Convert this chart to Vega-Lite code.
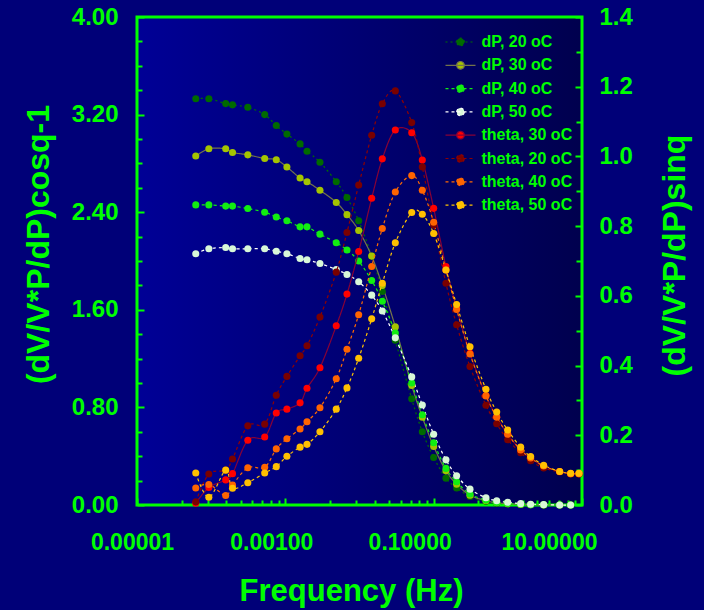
{
  "$schema": "https://vega.github.io/schema/vega-lite/v6.json",
  "width": 445,
  "height": 488,
  "autosize": "none",
  "padding": {"left": 137, "top": 17, "right": 122, "bottom": 105},
  "background": "#000078",
  "config": {
    "view": {"stroke": "#00ff00", "strokeWidth": 3, "fill": {"gradient": "linear", "x1": 0, "y1": 0, "x2": 1, "y2": 0, "stops": [{"offset": 0, "color": "#000096"}, {"offset": 1, "color": "#00004e"}]}},
    "axis": {
      "domain": false,
      "grid": false,
      "tickColor": "#00ff00",
      "tickWidth": 2,
      "labelFont": "Liberation Sans",
      "labelFontWeight": "bold",
      "labelColor": "#00ff00",
      "titleFont": "Liberation Sans",
      "titleFontWeight": "bold",
      "titleColor": "#00ff00"
    }
  },
  "data": {
    "values": [
      {"s": "dP, 20 oC", "f": 6.2e-5, "v": 3.33}, {"s": "dP, 20 oC", "f": 9.3e-5, "v": 3.33}, {"s": "dP, 20 oC", "f": 1.57e-4, "v": 3.29}, {"s": "dP, 20 oC", "f": 1.94e-4, "v": 3.28}, {"s": "dP, 20 oC", "f": 3.12e-4, "v": 3.26}, {"s": "dP, 20 oC", "f": 5.27e-4, "v": 3.2}, {"s": "dP, 20 oC", "f": 7.55e-4, "v": 3.11}, {"s": "dP, 20 oC", "f": 1.05e-3, "v": 3.04}, {"s": "dP, 20 oC", "f": 1.58e-3, "v": 2.96}, {"s": "dP, 20 oC", "f": 1.96e-3, "v": 2.9}, {"s": "dP, 20 oC", "f": 2.93e-3, "v": 2.81}, {"s": "dP, 20 oC", "f": 4.86e-3, "v": 2.65}, {"s": "dP, 20 oC", "f": 6.78e-3, "v": 2.52}, {"s": "dP, 20 oC", "f": 9.75e-3, "v": 2.33}, {"s": "dP, 20 oC", "f": 0.0146, "v": 2.04}, {"s": "dP, 20 oC", "f": 0.0203, "v": 1.75}, {"s": "dP, 20 oC", "f": 0.0304, "v": 1.35}, {"s": "dP, 20 oC", "f": 0.0506, "v": 0.87}, {"s": "dP, 20 oC", "f": 0.0703, "v": 0.6}, {"s": "dP, 20 oC", "f": 0.1, "v": 0.39}, {"s": "dP, 20 oC", "f": 0.1465, "v": 0.22}, {"s": "dP, 20 oC", "f": 0.204, "v": 0.14}, {"s": "dP, 20 oC", "f": 0.309, "v": 0.07}, {"s": "dP, 20 oC", "f": 0.507, "v": 0.03}, {"s": "dP, 20 oC", "f": 0.708, "v": 0.015}, {"s": "dP, 20 oC", "f": 0.995, "v": 0.008}, {"s": "dP, 20 oC", "f": 1.49, "v": 0.004}, {"s": "dP, 20 oC", "f": 2.03, "v": 0.002}, {"s": "dP, 20 oC", "f": 3.04, "v": 0.001}, {"s": "dP, 20 oC", "f": 5.0, "v": 0}, {"s": "dP, 20 oC", "f": 7.03, "v": 0},

      {"s": "dP, 30 oC", "f": 6.2e-5, "v": 2.86}, {"s": "dP, 30 oC", "f": 9.3e-5, "v": 2.92}, {"s": "dP, 30 oC", "f": 1.57e-4, "v": 2.92}, {"s": "dP, 30 oC", "f": 1.94e-4, "v": 2.89}, {"s": "dP, 30 oC", "f": 3.12e-4, "v": 2.87}, {"s": "dP, 30 oC", "f": 5.27e-4, "v": 2.84}, {"s": "dP, 30 oC", "f": 7.55e-4, "v": 2.83}, {"s": "dP, 30 oC", "f": 1.05e-3, "v": 2.77}, {"s": "dP, 30 oC", "f": 1.58e-3, "v": 2.68}, {"s": "dP, 30 oC", "f": 1.96e-3, "v": 2.65}, {"s": "dP, 30 oC", "f": 2.93e-3, "v": 2.58}, {"s": "dP, 30 oC", "f": 4.86e-3, "v": 2.48}, {"s": "dP, 30 oC", "f": 6.78e-3, "v": 2.38}, {"s": "dP, 30 oC", "f": 9.75e-3, "v": 2.25}, {"s": "dP, 30 oC", "f": 0.0146, "v": 2.04}, {"s": "dP, 30 oC", "f": 0.0203, "v": 1.8}, {"s": "dP, 30 oC", "f": 0.0304, "v": 1.46}, {"s": "dP, 30 oC", "f": 0.0506, "v": 0.98}, {"s": "dP, 30 oC", "f": 0.0703, "v": 0.72}, {"s": "dP, 30 oC", "f": 0.1, "v": 0.48}, {"s": "dP, 30 oC", "f": 0.1465, "v": 0.28}, {"s": "dP, 30 oC", "f": 0.204, "v": 0.17}, {"s": "dP, 30 oC", "f": 0.309, "v": 0.08}, {"s": "dP, 30 oC", "f": 0.507, "v": 0.035}, {"s": "dP, 30 oC", "f": 0.708, "v": 0.018}, {"s": "dP, 30 oC", "f": 0.995, "v": 0.01}, {"s": "dP, 30 oC", "f": 1.49, "v": 0.005}, {"s": "dP, 30 oC", "f": 2.03, "v": 0.003}, {"s": "dP, 30 oC", "f": 3.04, "v": 0.001}, {"s": "dP, 30 oC", "f": 5.0, "v": 0}, {"s": "dP, 30 oC", "f": 7.03, "v": 0},

      {"s": "dP, 40 oC", "f": 6.2e-5, "v": 2.46}, {"s": "dP, 40 oC", "f": 9.3e-5, "v": 2.46}, {"s": "dP, 40 oC", "f": 1.57e-4, "v": 2.45}, {"s": "dP, 40 oC", "f": 1.94e-4, "v": 2.45}, {"s": "dP, 40 oC", "f": 3.12e-4, "v": 2.43}, {"s": "dP, 40 oC", "f": 5.27e-4, "v": 2.4}, {"s": "dP, 40 oC", "f": 7.55e-4, "v": 2.36}, {"s": "dP, 40 oC", "f": 1.05e-3, "v": 2.33}, {"s": "dP, 40 oC", "f": 1.58e-3, "v": 2.28}, {"s": "dP, 40 oC", "f": 1.96e-3, "v": 2.28}, {"s": "dP, 40 oC", "f": 2.93e-3, "v": 2.22}, {"s": "dP, 40 oC", "f": 4.86e-3, "v": 2.15}, {"s": "dP, 40 oC", "f": 6.78e-3, "v": 2.09}, {"s": "dP, 40 oC", "f": 9.75e-3, "v": 2.0}, {"s": "dP, 40 oC", "f": 0.0146, "v": 1.84}, {"s": "dP, 40 oC", "f": 0.0203, "v": 1.67}, {"s": "dP, 40 oC", "f": 0.0304, "v": 1.41}, {"s": "dP, 40 oC", "f": 0.0506, "v": 1.0}, {"s": "dP, 40 oC", "f": 0.0703, "v": 0.74}, {"s": "dP, 40 oC", "f": 0.1, "v": 0.51}, {"s": "dP, 40 oC", "f": 0.1465, "v": 0.3}, {"s": "dP, 40 oC", "f": 0.204, "v": 0.19}, {"s": "dP, 40 oC", "f": 0.309, "v": 0.09}, {"s": "dP, 40 oC", "f": 0.507, "v": 0.04}, {"s": "dP, 40 oC", "f": 0.708, "v": 0.02}, {"s": "dP, 40 oC", "f": 0.995, "v": 0.012}, {"s": "dP, 40 oC", "f": 1.49, "v": 0.006}, {"s": "dP, 40 oC", "f": 2.03, "v": 0.003}, {"s": "dP, 40 oC", "f": 3.04, "v": 0.002}, {"s": "dP, 40 oC", "f": 5.0, "v": 0.001}, {"s": "dP, 40 oC", "f": 7.03, "v": 0},

      {"s": "dP, 50 oC", "f": 6.2e-5, "v": 2.06}, {"s": "dP, 50 oC", "f": 9.3e-5, "v": 2.1}, {"s": "dP, 50 oC", "f": 1.57e-4, "v": 2.11}, {"s": "dP, 50 oC", "f": 1.94e-4, "v": 2.1}, {"s": "dP, 50 oC", "f": 3.12e-4, "v": 2.1}, {"s": "dP, 50 oC", "f": 5.27e-4, "v": 2.1}, {"s": "dP, 50 oC", "f": 7.55e-4, "v": 2.08}, {"s": "dP, 50 oC", "f": 1.05e-3, "v": 2.06}, {"s": "dP, 50 oC", "f": 1.58e-3, "v": 2.02}, {"s": "dP, 50 oC", "f": 1.96e-3, "v": 2.01}, {"s": "dP, 50 oC", "f": 2.93e-3, "v": 1.98}, {"s": "dP, 50 oC", "f": 4.86e-3, "v": 1.93}, {"s": "dP, 50 oC", "f": 6.78e-3, "v": 1.89}, {"s": "dP, 50 oC", "f": 9.75e-3, "v": 1.83}, {"s": "dP, 50 oC", "f": 0.0146, "v": 1.72}, {"s": "dP, 50 oC", "f": 0.0203, "v": 1.59}, {"s": "dP, 50 oC", "f": 0.0304, "v": 1.37}, {"s": "dP, 50 oC", "f": 0.0506, "v": 1.05}, {"s": "dP, 50 oC", "f": 0.0703, "v": 0.82}, {"s": "dP, 50 oC", "f": 0.1, "v": 0.58}, {"s": "dP, 50 oC", "f": 0.1465, "v": 0.37}, {"s": "dP, 50 oC", "f": 0.204, "v": 0.24}, {"s": "dP, 50 oC", "f": 0.309, "v": 0.13}, {"s": "dP, 50 oC", "f": 0.507, "v": 0.06}, {"s": "dP, 50 oC", "f": 0.708, "v": 0.035}, {"s": "dP, 50 oC", "f": 0.995, "v": 0.022}, {"s": "dP, 50 oC", "f": 1.49, "v": 0.011}, {"s": "dP, 50 oC", "f": 2.03, "v": 0.006}, {"s": "dP, 50 oC", "f": 3.04, "v": 0.003}, {"s": "dP, 50 oC", "f": 5.0, "v": 0}, {"s": "dP, 50 oC", "f": 7.03, "v": 0},

      {"s": "theta, 30 oC", "f": 6.2e-5, "v": 0.005}, {"s": "theta, 30 oC", "f": 9.3e-5, "v": 0.05}, {"s": "theta, 30 oC", "f": 1.57e-4, "v": 0.072}, {"s": "theta, 30 oC", "f": 1.94e-4, "v": 0.09}, {"s": "theta, 30 oC", "f": 3.12e-4, "v": 0.186}, {"s": "theta, 30 oC", "f": 5.27e-4, "v": 0.195}, {"s": "theta, 30 oC", "f": 7.55e-4, "v": 0.264}, {"s": "theta, 30 oC", "f": 1.05e-3, "v": 0.275}, {"s": "theta, 30 oC", "f": 1.58e-3, "v": 0.293}, {"s": "theta, 30 oC", "f": 1.96e-3, "v": 0.335}, {"s": "theta, 30 oC", "f": 2.93e-3, "v": 0.394}, {"s": "theta, 30 oC", "f": 4.86e-3, "v": 0.514}, {"s": "theta, 30 oC", "f": 6.78e-3, "v": 0.605}, {"s": "theta, 30 oC", "f": 9.75e-3, "v": 0.727}, {"s": "theta, 30 oC", "f": 0.0146, "v": 0.88}, {"s": "theta, 30 oC", "f": 0.0203, "v": 0.993}, {"s": "theta, 30 oC", "f": 0.0304, "v": 1.076}, {"s": "theta, 30 oC", "f": 0.0506, "v": 1.068}, {"s": "theta, 30 oC", "f": 0.0703, "v": 0.99}, {"s": "theta, 30 oC", "f": 0.1, "v": 0.851}, {"s": "theta, 30 oC", "f": 0.1465, "v": 0.684}, {"s": "theta, 30 oC", "f": 0.204, "v": 0.564}, {"s": "theta, 30 oC", "f": 0.309, "v": 0.435}, {"s": "theta, 30 oC", "f": 0.507, "v": 0.314}, {"s": "theta, 30 oC", "f": 0.708, "v": 0.253}, {"s": "theta, 30 oC", "f": 0.995, "v": 0.203}, {"s": "theta, 30 oC", "f": 1.49, "v": 0.158}, {"s": "theta, 30 oC", "f": 2.03, "v": 0.134}, {"s": "theta, 30 oC", "f": 3.04, "v": 0.112}, {"s": "theta, 30 oC", "f": 5.0, "v": 0.096}, {"s": "theta, 30 oC", "f": 7.03, "v": 0.09}, {"s": "theta, 30 oC", "f": 9.1, "v": 0.09},

      {"s": "theta, 20 oC", "f": 6.2e-5, "v": 0.009}, {"s": "theta, 20 oC", "f": 9.3e-5, "v": 0.089}, {"s": "theta, 20 oC", "f": 1.57e-4, "v": 0.1}, {"s": "theta, 20 oC", "f": 1.94e-4, "v": 0.132}, {"s": "theta, 20 oC", "f": 3.12e-4, "v": 0.227}, {"s": "theta, 20 oC", "f": 5.27e-4, "v": 0.232}, {"s": "theta, 20 oC", "f": 7.55e-4, "v": 0.315}, {"s": "theta, 20 oC", "f": 1.05e-3, "v": 0.369}, {"s": "theta, 20 oC", "f": 1.58e-3, "v": 0.428}, {"s": "theta, 20 oC", "f": 1.96e-3, "v": 0.457}, {"s": "theta, 20 oC", "f": 2.93e-3, "v": 0.539}, {"s": "theta, 20 oC", "f": 4.86e-3, "v": 0.668}, {"s": "theta, 20 oC", "f": 6.78e-3, "v": 0.782}, {"s": "theta, 20 oC", "f": 9.75e-3, "v": 0.918}, {"s": "theta, 20 oC", "f": 0.0146, "v": 1.061}, {"s": "theta, 20 oC", "f": 0.0203, "v": 1.151}, {"s": "theta, 20 oC", "f": 0.0304, "v": 1.188}, {"s": "theta, 20 oC", "f": 0.0506, "v": 1.097}, {"s": "theta, 20 oC", "f": 0.0703, "v": 0.97}, {"s": "theta, 20 oC", "f": 0.1, "v": 0.803}, {"s": "theta, 20 oC", "f": 0.1465, "v": 0.636}, {"s": "theta, 20 oC", "f": 0.204, "v": 0.517}, {"s": "theta, 20 oC", "f": 0.309, "v": 0.397}, {"s": "theta, 20 oC", "f": 0.507, "v": 0.286}, {"s": "theta, 20 oC", "f": 0.708, "v": 0.233}, {"s": "theta, 20 oC", "f": 0.995, "v": 0.187}, {"s": "theta, 20 oC", "f": 1.49, "v": 0.15}, {"s": "theta, 20 oC", "f": 2.03, "v": 0.127}, {"s": "theta, 20 oC", "f": 3.04, "v": 0.106}, {"s": "theta, 20 oC", "f": 5.0, "v": 0.095}, {"s": "theta, 20 oC", "f": 7.03, "v": 0.089}, {"s": "theta, 20 oC", "f": 9.1, "v": 0.089},

      {"s": "theta, 40 oC", "f": 6.2e-5, "v": 0.049}, {"s": "theta, 40 oC", "f": 9.3e-5, "v": 0.059}, {"s": "theta, 40 oC", "f": 1.57e-4, "v": 0.027}, {"s": "theta, 40 oC", "f": 1.94e-4, "v": 0.057}, {"s": "theta, 40 oC", "f": 3.12e-4, "v": 0.107}, {"s": "theta, 40 oC", "f": 5.27e-4, "v": 0.108}, {"s": "theta, 40 oC", "f": 7.55e-4, "v": 0.161}, {"s": "theta, 40 oC", "f": 1.05e-3, "v": 0.19}, {"s": "theta, 40 oC", "f": 1.58e-3, "v": 0.218}, {"s": "theta, 40 oC", "f": 1.96e-3, "v": 0.239}, {"s": "theta, 40 oC", "f": 2.93e-3, "v": 0.279}, {"s": "theta, 40 oC", "f": 4.86e-3, "v": 0.362}, {"s": "theta, 40 oC", "f": 6.78e-3, "v": 0.447}, {"s": "theta, 40 oC", "f": 9.75e-3, "v": 0.546}, {"s": "theta, 40 oC", "f": 0.0146, "v": 0.684}, {"s": "theta, 40 oC", "f": 0.0203, "v": 0.793}, {"s": "theta, 40 oC", "f": 0.0304, "v": 0.898}, {"s": "theta, 40 oC", "f": 0.0506, "v": 0.945}, {"s": "theta, 40 oC", "f": 0.0703, "v": 0.903}, {"s": "theta, 40 oC", "f": 0.1, "v": 0.811}, {"s": "theta, 40 oC", "f": 0.1465, "v": 0.674}, {"s": "theta, 40 oC", "f": 0.204, "v": 0.561}, {"s": "theta, 40 oC", "f": 0.309, "v": 0.433}, {"s": "theta, 40 oC", "f": 0.507, "v": 0.313}, {"s": "theta, 40 oC", "f": 0.708, "v": 0.252}, {"s": "theta, 40 oC", "f": 0.995, "v": 0.203}, {"s": "theta, 40 oC", "f": 1.49, "v": 0.158}, {"s": "theta, 40 oC", "f": 2.03, "v": 0.135}, {"s": "theta, 40 oC", "f": 3.04, "v": 0.112}, {"s": "theta, 40 oC", "f": 5.0, "v": 0.096}, {"s": "theta, 40 oC", "f": 7.03, "v": 0.09}, {"s": "theta, 40 oC", "f": 9.1, "v": 0.09},

      {"s": "theta, 50 oC", "f": 6.2e-5, "v": 0.092}, {"s": "theta, 50 oC", "f": 9.3e-5, "v": 0.022}, {"s": "theta, 50 oC", "f": 1.57e-4, "v": 0.1}, {"s": "theta, 50 oC", "f": 1.94e-4, "v": 0.048}, {"s": "theta, 50 oC", "f": 3.12e-4, "v": 0.064}, {"s": "theta, 50 oC", "f": 5.27e-4, "v": 0.092}, {"s": "theta, 50 oC", "f": 7.55e-4, "v": 0.11}, {"s": "theta, 50 oC", "f": 1.05e-3, "v": 0.14}, {"s": "theta, 50 oC", "f": 1.58e-3, "v": 0.166}, {"s": "theta, 50 oC", "f": 1.96e-3, "v": 0.174}, {"s": "theta, 50 oC", "f": 2.93e-3, "v": 0.21}, {"s": "theta, 50 oC", "f": 4.86e-3, "v": 0.275}, {"s": "theta, 50 oC", "f": 6.78e-3, "v": 0.336}, {"s": "theta, 50 oC", "f": 9.75e-3, "v": 0.421}, {"s": "theta, 50 oC", "f": 0.0146, "v": 0.534}, {"s": "theta, 50 oC", "f": 0.0203, "v": 0.636}, {"s": "theta, 50 oC", "f": 0.0304, "v": 0.752}, {"s": "theta, 50 oC", "f": 0.0506, "v": 0.839}, {"s": "theta, 50 oC", "f": 0.0703, "v": 0.834}, {"s": "theta, 50 oC", "f": 0.1, "v": 0.779}, {"s": "theta, 50 oC", "f": 0.1465, "v": 0.674}, {"s": "theta, 50 oC", "f": 0.204, "v": 0.575}, {"s": "theta, 50 oC", "f": 0.309, "v": 0.454}, {"s": "theta, 50 oC", "f": 0.507, "v": 0.332}, {"s": "theta, 50 oC", "f": 0.708, "v": 0.267}, {"s": "theta, 50 oC", "f": 0.995, "v": 0.215}, {"s": "theta, 50 oC", "f": 1.49, "v": 0.166}, {"s": "theta, 50 oC", "f": 2.03, "v": 0.139}, {"s": "theta, 50 oC", "f": 3.04, "v": 0.114}, {"s": "theta, 50 oC", "f": 5.0, "v": 0.096}, {"s": "theta, 50 oC", "f": 7.03, "v": 0.091}, {"s": "theta, 50 oC", "f": 9.1, "v": 0.091}
    ]
  },
  "encoding": {
    "x": {
      "field": "f",
      "type": "quantitative",
      "scale": {"type": "log", "domain": [0.00001, 10]},
      "axis": {
        "orient": "bottom",
        "values": [0.00001, 0.00004, 0.00009, 0.00016, 0.00025, 0.00036, 0.00049, 0.00064, 0.00081, 0.001, 0.004, 0.009, 0.016, 0.025, 0.036, 0.049, 0.064, 0.081, 0.1, 0.4, 0.9, 1.6, 2.5, 3.6, 4.9, 6.4, 8.1, 10],
        "labelExpr": "(datum.value == 0.00001 || datum.value == 0.001 || datum.value == 0.1 || datum.value == 10) ? format(datum.value, '.5f') : ''",
        "labelFontSize": 23,
        "labelPadding": 33,
        "labelFlush": false,
        "labelOverlap": false,
        "labelOffset": {"condition": [{"test": "datum.value == 0.001", "value": -14}, {"test": "datum.value == 0.1", "value": -24}, {"test": "datum.value == 10", "value": -33}], "value": -5},
        "tickSize": {"condition": {"test": "datum.value == 0.00001 || datum.value == 0.001 || datum.value == 0.1 || datum.value == 10", "value": -7}, "value": -5},
        "title": "Frequency (Hz)",
        "titleFontSize": 31,
        "titlePadding": 20,
        "titleX": 214
      }
    }
  },
  "layer": [
    {
      "transform": [{"filter": "indexof(datum.s, 'dP') == 0"}],
      "encoding": {
        "y": {
          "field": "v",
          "type": "quantitative",
          "scale": {"domain": [0, 4], "nice": false, "zero": false},
          "axis": {
            "orient": "left",
            "values": [0, 0.2, 0.4, 0.6, 0.8, 1.0, 1.2, 1.4, 1.6, 1.8, 2.0, 2.2, 2.4, 2.6, 2.8, 3.0, 3.2, 3.4, 3.6, 3.8, 4.0],
            "labelExpr": "round(datum.value * 10) % 8 == 0 ? format(datum.value, '.2f') : ''",
            "labelFontSize": 24,
            "labelPadding": 26,
            "labelOverlap": false,
            "labelFlush": false,
            "tickSize": {"condition": {"test": "round(datum.value * 10) % 8 == 0", "value": -7}, "value": -5},
            "title": "(dV/V*P/dP)cosq-1",
            "titleFontSize": 32,
            "titlePadding": 16,
            "titleY": 227
          }
        }
      },
      "layer": [
        {
          "mark": {"type": "line", "interpolate": "cardinal", "strokeWidth": 1.2},
          "encoding": {
            "stroke": {"field": "s", "type": "nominal", "legend": null, "scale": {"domain": ["dP, 20 oC", "dP, 30 oC", "dP, 40 oC", "dP, 50 oC", "theta, 20 oC", "theta, 30 oC", "theta, 40 oC", "theta, 50 oC"], "range": ["#007000", "#74744a", "#11ee11", "#ffffff", "#900000", "#880036", "#ff6a00", "#ffc400"]}},
            "strokeDash": {"field": "s", "type": "nominal", "legend": null, "scale": {"domain": ["dP, 20 oC", "dP, 30 oC", "dP, 40 oC", "dP, 50 oC", "theta, 20 oC", "theta, 30 oC", "theta, 40 oC", "theta, 50 oC"], "range": [[2, 3], [1, 0], [3, 3], [3, 3], [3, 3], [1, 0], [3, 3], [3, 3]]}}
          }
        },
        {
          "mark": {"type": "point", "filled": true, "size": 50, "opacity": 1},
          "encoding": {
            "fill": {"field": "s", "type": "nominal", "scale": {"domain": ["dP, 20 oC", "dP, 30 oC", "dP, 40 oC", "dP, 50 oC", "theta, 30 oC", "theta, 20 oC", "theta, 40 oC", "theta, 50 oC"], "range": ["#006a00", "#a4c400", "#11ee11", "#d8f8d8", "#ff0000", "#7a0000", "#ff6400", "#ffc000"]},
              "legend": {
                "orient": "none", "legendX": 312.5, "legendY": 14, "title": null, "padding": 0,
                "symbolType": "M-1.5,0L1.5,0M-0.38,0A0.38,0.38,0,1,1,0.38,0A0.38,0.38,0,1,1,-0.38,0Z",
                "symbolSize": 400, "symbolStrokeWidth": 1.2, "symbolOpacity": 1,
                "rowPadding": 4.3, "labelOffset": 10,
                "labelFont": "Liberation Sans", "labelFontWeight": "bold", "labelFontSize": 16, "labelColor": "#00ff00",
                "encode": {"symbols": {"update": {"stroke": {"signal": "scale('stroke', datum.value)"}, "strokeDash": {"signal": "scale('strokeDash', datum.value)"}}}}
              }
            }
          }
        }
      ]
    },
    {
      "transform": [{"filter": "indexof(datum.s, 'theta') == 0"}],
      "encoding": {
        "y": {
          "field": "v",
          "type": "quantitative",
          "scale": {"domain": [0, 1.4], "nice": false, "zero": false},
          "axis": {
            "orient": "right",
            "values": [0, 0.1, 0.2, 0.3, 0.4, 0.5, 0.6, 0.7, 0.8, 0.9, 1.0, 1.1, 1.2, 1.3, 1.4],
            "labelExpr": "round(datum.value * 10) % 2 == 0 ? format(datum.value, '.1f') : ''",
            "labelFontSize": 24,
            "labelPadding": 24,
            "labelOverlap": false,
            "labelFlush": false,
            "tickSize": {"condition": {"test": "round(datum.value * 10) % 2 == 0", "value": -7}, "value": -6},
            "title": "(dV/V*P/dP)sinq",
            "titleFontSize": 32,
            "titleAngle": 270,
            "titleBaseline": "top",
            "titlePadding": 27,
            "titleY": 238
          }
        }
      },
      "layer": [
        {
          "mark": {"type": "line", "interpolate": "cardinal", "strokeWidth": 1.2},
          "encoding": {
            "stroke": {"field": "s", "type": "nominal", "legend": null},
            "strokeDash": {"field": "s", "type": "nominal", "legend": null}
          }
        },
        {
          "mark": {"type": "point", "filled": true, "size": 50, "opacity": 1},
          "encoding": {
            "fill": {"field": "s", "type": "nominal"}
          }
        }
      ]
    }
  ],
  "resolve": {"scale": {"y": "independent"}}
}
